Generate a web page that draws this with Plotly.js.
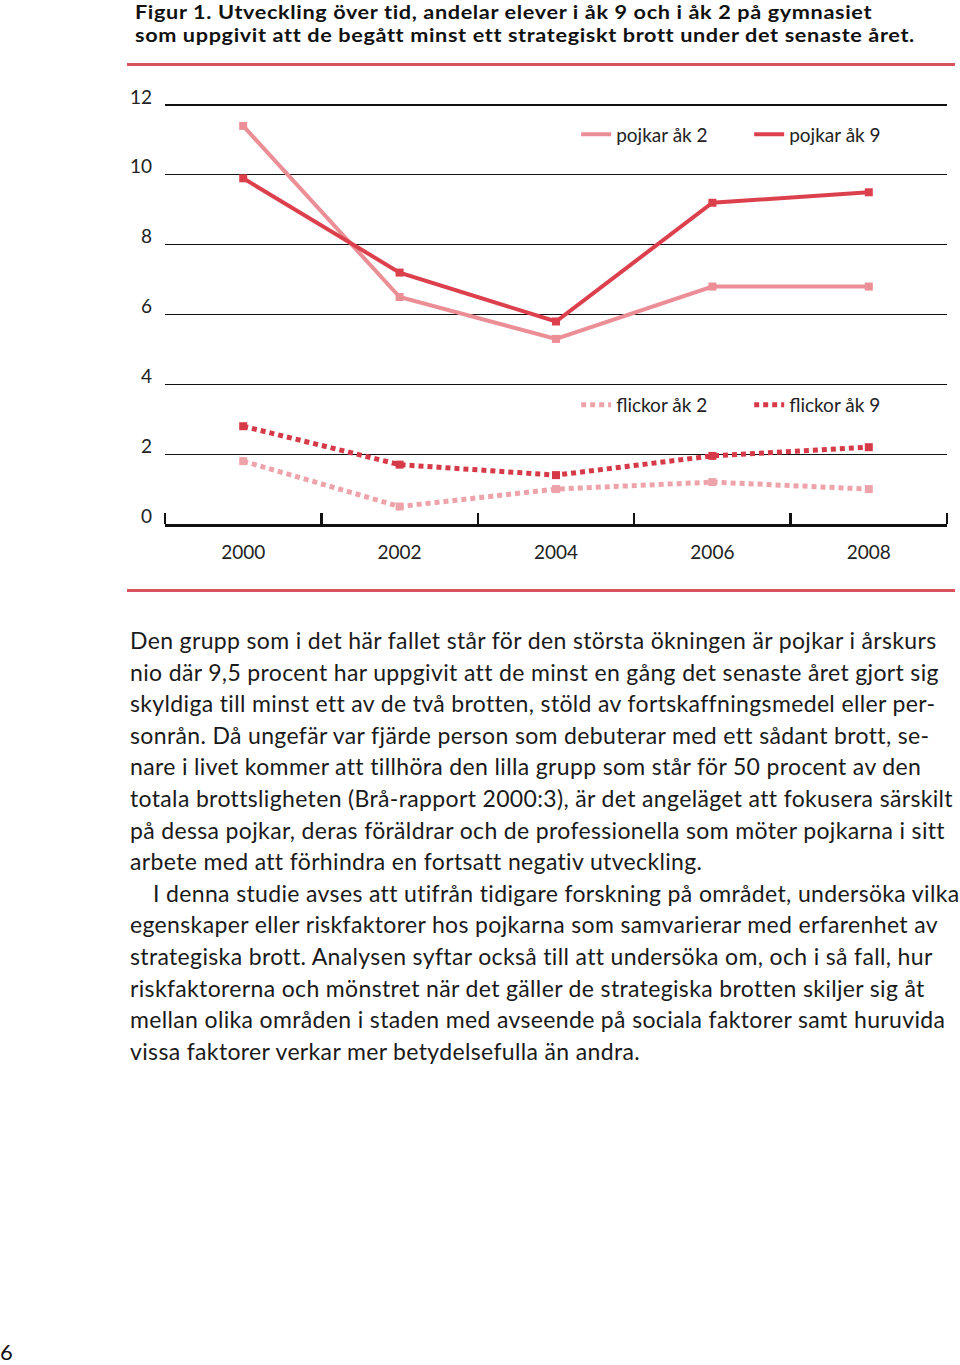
<!DOCTYPE html>
<html>
<head>
<meta charset="utf-8">
<script src="https://cdn.plot.ly/plotly-3.0.1.min.js"></script>
<style>
  html, body { margin:0; padding:0; background:#fff; width:960px; height:1365px; overflow:hidden; }
  body { position:relative; font-family: Lato, "Open Sans", sans-serif; color:#1a1a1a; }
  .tline { position:absolute; left:135px; font-family:Lato, "Open Sans", sans-serif; font-weight:bold; font-size:19px; letter-spacing:0.55px; line-height:23px; color:#111; white-space:nowrap; transform:scaleX(1.14); transform-origin:0 50%; }
  .rule { position:absolute; left:127px; width:828px; height:3px; background:#d9535e; }
  #chart { position:absolute; left:0; top:0; width:960px; height:600px; }
  #body { position:absolute; left:130px; top:625px; font-size:23px; letter-spacing:0.35px; line-height:31.6px; color:#1a1a1a; }
  #body div { white-space:nowrap; }
  #pageno { position:absolute; left:0px; top:1338px; font-size:22px; color:#111; }
</style>
</head>
<body>
<div class="tline" style="top:0px">Figur 1. Utveckling över tid, andelar elever i åk 9 och i åk 2 på gymnasiet</div>
<div class="tline" style="top:23px">som uppgivit att de begått minst ett strategiskt brott under det senaste året.</div>
<div class="rule" style="top:63px"></div>
<div id="chart"></div>
<div class="rule" style="top:589px"></div>
<div id="body">
<div>Den grupp som i det här fallet står för den största ökningen är pojkar i årskurs</div>
<div>nio där 9,5 procent har uppgivit att de minst en gång det senaste året gjort sig</div>
<div>skyldiga till minst ett av de två brotten, stöld av fortskaffningsmedel eller per-</div>
<div>sonrån. Då ungefär var fjärde person som debuterar med ett sådant brott, se-</div>
<div>nare i livet kommer att tillhöra den lilla grupp som står för 50 procent av den</div>
<div>totala brottsligheten (Brå-rapport 2000:3), är det angeläget att fokusera särskilt</div>
<div>på dessa pojkar, deras föräldrar och de professionella som möter pojkarna i sitt</div>
<div>arbete med att förhindra en fortsatt negativ utveckling.</div>
<div style="padding-left:23px">I denna studie avses att utifrån tidigare forskning på området, undersöka vilka</div>
<div>egenskaper eller riskfaktorer hos pojkarna som samvarierar med erfarenhet av</div>
<div>strategiska brott. Analysen syftar också till att undersöka om, och i så fall, hur</div>
<div>riskfaktorerna och mönstret när det gäller de strategiska brotten skiljer sig åt</div>
<div>mellan olika områden i staden med avseende på sociala faktorer samt huruvida</div>
<div>vissa faktorer verkar mer betydelsefulla än andra.</div>
</div>
<div id="pageno">6</div>
<script>
const years = [2000, 2002, 2004, 2006, 2008];
const tickLabels = ['2000', '2002', '2004', '2006', '2008'];
const pojkarAk2 = [11.4, 6.5, 5.3, 6.8, 6.8];
const pojkarAk9 = [9.9, 7.2, 5.8, 9.2, 9.5];
const flickorAk2 = [1.8, 0.5, 1.0, 1.2, 1.0];
const flickorAk9 = [2.8, 1.7, 1.4, 1.95, 2.2];
const seriesNames = ['pojkar åk 2', 'pojkar åk 9', 'flickor åk 2', 'flickor åk 9'];

const cLight = '#eb8e96';
const cDark = '#dc404d';
const cLightDot = '#eea3aa';
const cDarkDot = '#d63a48';

function lineTrace(y, name, color, dash, legend) {
  return { x: years, y: y, name: name, mode: 'lines', type: 'scatter',
    line: { color: color, width: dash ? 5 : 4, dash: dash || 'solid' },
    legend: legend, hoverinfo: 'skip' };
}
function markerTrace(y, color) {
  return { x: years, y: y, mode: 'markers', type: 'scatter', showlegend: false,
    marker: { symbol: 'square', size: 8, color: color }, hoverinfo: 'skip' };
}

const traces = [
  lineTrace(pojkarAk2, seriesNames[0], cLight, null, 'legend'),
  lineTrace(pojkarAk9, seriesNames[1], cDark, null, 'legend'),
  lineTrace(flickorAk2, seriesNames[2], cLightDot, '5px,4px', 'legend2'),
  lineTrace(flickorAk9, seriesNames[3], cDarkDot, '5px,4px', 'legend2'),
  markerTrace(pojkarAk2, cLight),
  markerTrace(pojkarAk9, cDark),
  markerTrace(flickorAk2, cLightDot),
  markerTrace(flickorAk9, cDarkDot)
];

const fontFam = 'Lato, "Open Sans", sans-serif';
const layout = {
  width: 960, height: 600,
  margin: { l: 165, r: 13, t: 98, b: 76 },
  paper_bgcolor: 'rgba(0,0,0,0)', plot_bgcolor: 'rgba(0,0,0,0)',
  font: { family: fontFam, size: 19, color: '#222' },
  showlegend: true,
  xaxis: {
    range: [1999, 2009], tickmode: 'array', tickvals: years, ticktext: tickLabels,
    ticks: '', showgrid: false, zeroline: false,
    showline: true, linecolor: '#111', linewidth: 3,
    ticklabelstandoff: 9,
    tickfont: { size: 19, color: '#222' },
    minor: { tick0: 2001, dtick: 2, ticks: 'inside', ticklen: 11, tickwidth: 2.5, tickcolor: '#111', showgrid: false }
  },
  yaxis: {
    range: [0, 12.2], tickmode: 'linear', dtick: 2, tick0: 0, showgrid: true, gridcolor: '#111', gridwidth: 1.3,
    zeroline: false, showline: false, ticks: '', ticklabelstandoff: 12, ticklabelshift: -8,
    tickfont: { size: 19, color: '#222' }
  },
  legend: {
    orientation: 'h', x: 0.5258, y: 0.93 * 419 / 426, xanchor: 'left', yanchor: 'middle',
    bgcolor: 'rgba(0,0,0,0)', font: { size: 19, color: '#222' },
    entrywidth: 128, entrywidthmode: 'pixels', traceorder: 'normal'
  },
  legend2: {
    orientation: 'h', x: 0.5258, y: 0.284 * 419 / 426, xanchor: 'left', yanchor: 'middle',
    bgcolor: 'rgba(0,0,0,0)', font: { size: 19, color: '#222' },
    entrywidth: 128, entrywidthmode: 'pixels', traceorder: 'normal'
  }
};

Plotly.newPlot('chart', traces, layout, { displayModeBar: false, staticPlot: true });
</script>
</body>
</html>
